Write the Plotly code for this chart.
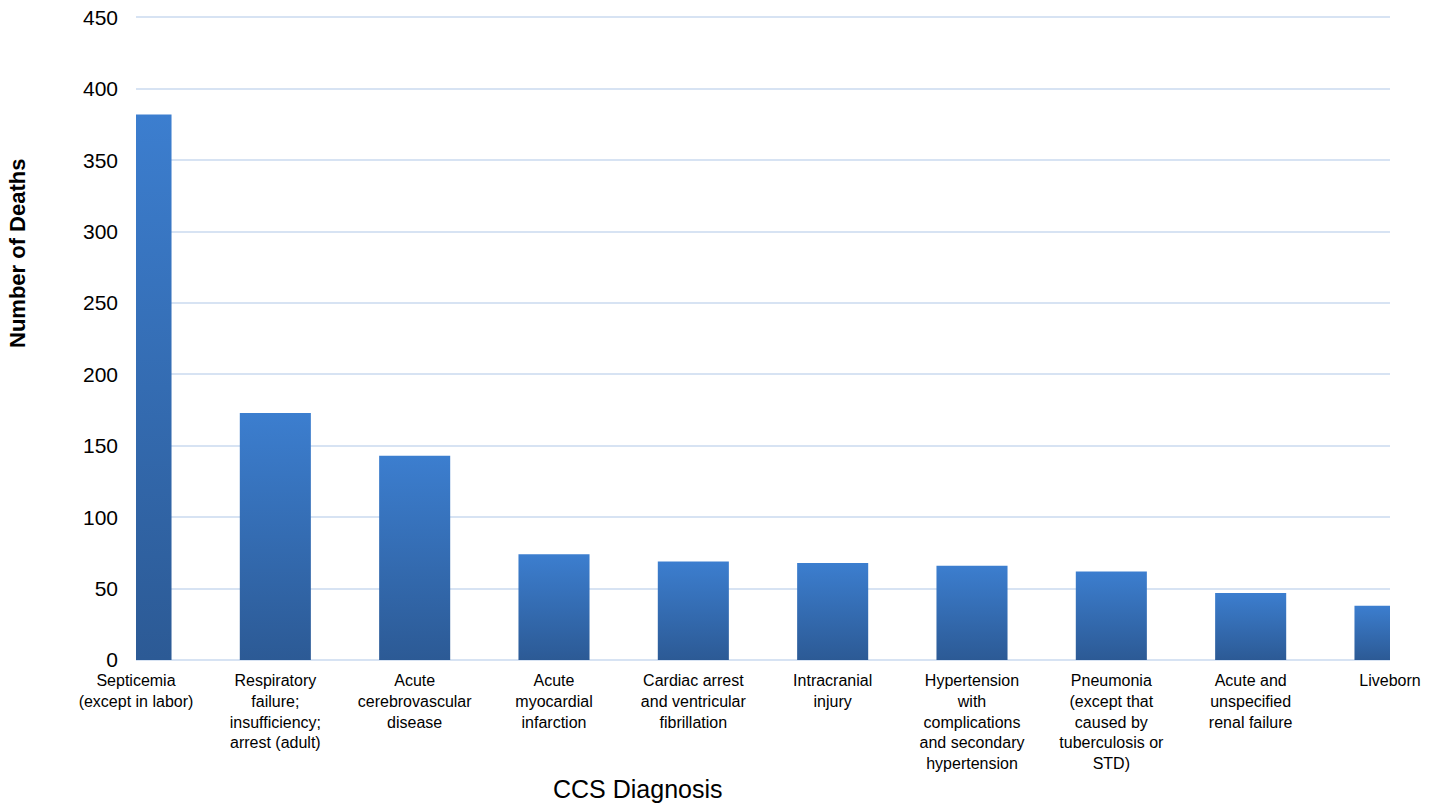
import plotly.graph_objects as go

# CCS diagnosis categories (line breaks as shown under the axis)
categories = [
    "Septicemia<br>(except in labor)",
    "Respiratory<br>failure;<br>insufficiency;<br>arrest (adult)",
    "Acute<br>cerebrovascular<br>disease",
    "Acute<br>myocardial<br>infarction",
    "Cardiac arrest<br>and ventricular<br>fibrillation",
    "Intracranial<br>injury",
    "Hypertension<br>with<br>complications<br>and secondary<br>hypertension",
    "Pneumonia<br>(except that<br>caused by<br>tuberculosis or<br>STD)",
    "Acute and<br>unspecified<br>renal failure",
    "Liveborn",
]
deaths = [382, 173, 143, 74, 69, 68, 66, 62, 47, 38]

y_ticks = [0, 50, 100, 150, 200, 250, 300, 350, 400, 450]

BAR_WIDTH = 0.51
COLOR_TOP = "#3c7ecf"
COLOR_BOTTOM = "#2c5a95"
GRID_COLOR = "#d7e3f3"
FONT = "Liberation Sans, Arial, sans-serif"

W, H = 1437, 804
ML, MR, MT, MB = 136, 47, 16, 144
plot_w = W - ML - MR
plot_h = H - MT - MB


def px_to_paper(px, py):
    """Convert page pixel coordinates into paper fractions."""
    return (px - ML) / plot_w, (H - MB - py) / plot_h


fig = go.Figure()

# Each bar is a filled rectangle on the numeric x scale so it can carry
# its own vertical gradient (dark at the base, lighter at the top).
for i, v in enumerate(deaths):
    x0, x1 = i - BAR_WIDTH / 2, i + BAR_WIDTH / 2
    fig.add_trace(go.Scatter(
        x=[x0, x1, x1, x0, x0],
        y=[0, 0, v, v, 0],
        mode="lines",
        line=dict(width=0),
        fill="toself",
        fillgradient=dict(
            type="vertical",
            colorscale=[[0, COLOR_BOTTOM], [1, COLOR_TOP]],
        ),
        hoverinfo="skip",
        showlegend=False,
    ))

ytx, yty = px_to_paper(18, 254)
xtx, xty = px_to_paper(638, 789)

fig.update_layout(
    width=W,
    height=H,
    margin=dict(l=ML, r=MR, t=MT, b=MB),
    plot_bgcolor="white",
    paper_bgcolor="white",
    font=dict(family=FONT, color="#000000"),
    showlegend=False,
    annotations=[
        dict(text="<b>Number of Deaths</b>", x=ytx, y=yty, xref="paper", yref="paper",
             xanchor="center", yanchor="middle", showarrow=False, textangle=-90,
             font=dict(size=22, family=FONT)),
        dict(text="CCS Diagnosis", x=xtx, y=xty, xref="paper", yref="paper",
             xanchor="center", yanchor="middle", showarrow=False,
             font=dict(size=25, family=FONT)),
    ],
)

fig.update_xaxes(
    range=[0, len(categories) - 1],
    tickmode="array",
    tickvals=list(range(len(categories))),
    ticktext=categories,
    tickfont=dict(size=16, family=FONT, color="#000000"),
    showgrid=False,
    zeroline=False,
    showline=False,
    ticks="",
    ticklabelstandoff=9,
    automargin=False,
)

# A hair of headroom above 450 keeps the top gridline inside the plot
fig.update_yaxes(
    range=[0, 451],
    tickmode="array",
    tickvals=y_ticks,
    tickfont=dict(size=21, family=FONT, color="#000000"),
    showgrid=True,
    gridcolor=GRID_COLOR,
    gridwidth=2,
    zeroline=True,
    zerolinecolor=GRID_COLOR,
    zerolinewidth=2,
    showline=False,
    ticks="",
    ticklabelstandoff=17,
    automargin=False,
)

fig.write_html("out.html")
